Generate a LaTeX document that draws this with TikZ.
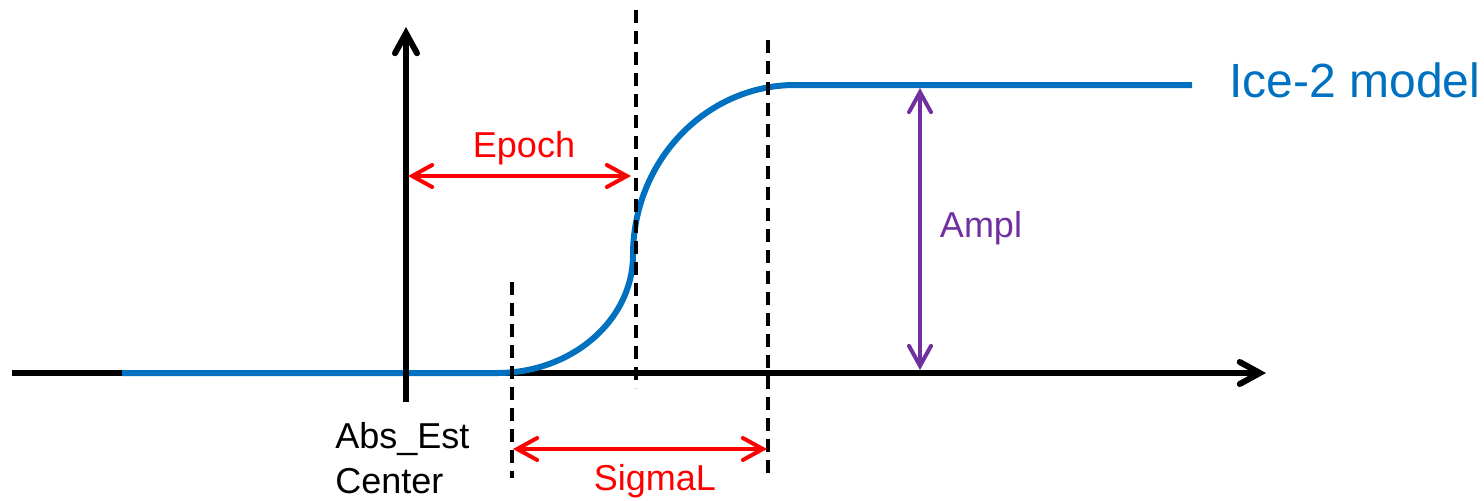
\documentclass[tikz,border=0pt]{standalone}
\usepackage{fontspec}
\setmainfont{Liberation Sans}
\usetikzlibrary{arrows.meta}
\definecolor{iceblue}{HTML}{0070C0}
\definecolor{amplpurple}{HTML}{7030A0}
\definecolor{labred}{HTML}{FF0000}
\begin{document}
\begin{tikzpicture}[x=0.5pt,y=-0.5pt,
  axis/.style={line width=3pt,black,-{Straight Barb[length=10pt,width=11pt,line cap=round]}},
  model/.style={line width=3pt,iceblue},
  guide/.style={line width=2pt,black,dash pattern=on 6.5pt off 4pt},
  measure/.style={line width=2pt,{Straight Barb[length=10pt,width=11pt,line cap=round]}-{Straight Barb[length=10pt,width=11pt,line cap=round]}},
  lbl/.style={inner sep=0pt,font=\fontsize{18}{21}\selectfont},
]
\useasboundingbox (0,0) rectangle (1484,500);
% coordinates
\coordinate (xs) at (12,373);
\coordinate (xe) at (1266,373);
\coordinate (ys) at (406,402);
\coordinate (ye) at (406,27);
\coordinate (b0) at (122,373);
\coordinate (b1) at (497,373);
\coordinate (bm) at (633,255);
\coordinate (b2) at (795,85);
\coordinate (b3) at (1192,85);
\coordinate (d1a) at (512,282); \coordinate (d1b) at (512,478);
\coordinate (d2a) at (636,10);  \coordinate (d2b) at (636,388);
\coordinate (d3a) at (768,40);  \coordinate (d3b) at (768,475);
\coordinate (ea) at (408,176); \coordinate (eb) at (631,176);
\coordinate (sa) at (513,449); \coordinate (sb) at (767,449);
\coordinate (aa) at (920,88);  \coordinate (ab) at (920,370);
% axes and model
\draw[axis] (xs) -- (xe);
\draw[model] (b0) -- (b1) .. controls (572,373) and (633,320) .. (bm)
  .. controls (633,161) and (706,85) .. (b2) -- (b3);
\draw[axis] (ys) -- (ye);
% guides
\draw[guide] (d1a) -- (d1b);
\draw[guide] (d2a) -- (d2b);
\draw[guide] (d3a) -- (d3b);
% measures
\draw[measure,labred] (ea) -- (eb);
\draw[measure,labred] (sa) -- (sb);
\draw[measure,amplpurple] (aa) -- (ab);
% labels
\node[lbl,labred,anchor=base] (epoch) at (524,157) {Epoch};
\node[lbl,labred,anchor=base] (sigma) at (655,490) {SigmaL};
\node[lbl,amplpurple,anchor=base] (ampl) at (981,237) {Ampl};
\node[lbl,anchor=base west] (abs) at (335,448) {Abs\_Est};
\node[lbl,anchor=base west] (center) at (335,493) {Center};
\node[inner sep=0pt,iceblue,anchor=base west,font=\fontsize{24}{28}\selectfont] (ice) at (1229,97) {Ice-2 model};
\end{tikzpicture}
\end{document}
